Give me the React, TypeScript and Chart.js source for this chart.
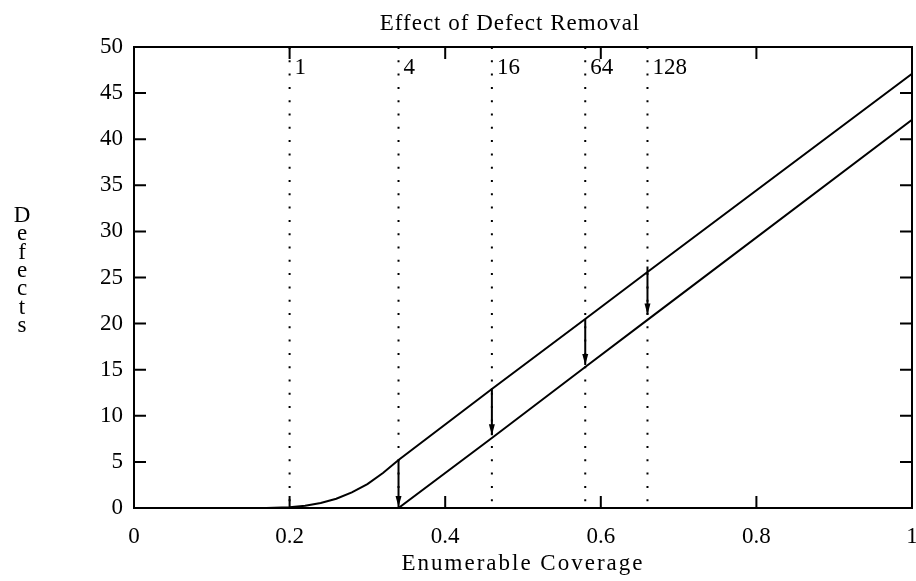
import React, { useEffect, useRef } from 'react';
import { Chart, registerables } from 'chart.js';

Chart.register(...registerables);

const titleText = 'Effect of Defect Removal';
const xAxisTitle = 'Enumerable Coverage';
const yAxisTitle = 'Defects';

// coverage levels where the test subsets are cut, with subset sizes
const cutCoverage = [0.2, 0.34, 0.46, 0.58, 0.66];
const cutLabels = ['1', '4', '16', '64', '128'];

// defects before removal
const beforeX = [0.17, 0.2, 0.22, 0.24, 0.26, 0.28, 0.3, 0.32, 0.34, 0.46, 0.58, 0.66, 1];
const beforeY = [0, 0.08, 0.25, 0.55, 1.0, 1.7, 2.6, 3.8, 5.2, 12.9, 20.5, 25.6, 47.1];

// defects after removal
const afterX = [0.34, 0.46, 0.58, 0.66, 1];
const afterY = [0, 7.6, 15.3, 20.4, 42.1];

// removal arrows
const arrowX = [0.34, 0.46, 0.58, 0.66];
const arrowFrom = [5.2, 13.0, 20.5, 26.2];
const arrowTo = [0.1, 7.9, 15.5, 21.0];

const FONT = "'Liberation Serif', 'Times New Roman', serif";
const FONT_SIZE = 23;

const zip = (xs: number[], ys: number[]) => xs.map((x, i) => ({ x, y: ys[i] }));

const decorPlugin = {
  id: 'decor',
  afterDatasetsDraw(chart: any) {
    const { ctx, chartArea: a, scales } = chart;
    const xs = scales.x;
    const ys = scales.y;
    ctx.save();

    // arrowheads at the end of each arrow dataset
    ctx.fillStyle = '#000';
    chart.data.datasets.forEach((ds: any, i: number) => {
      if (!ds.arrow) return;
      const meta = chart.getDatasetMeta(i);
      const pts = meta.data;
      const tip = pts[pts.length - 1];
      const len = 11;
      const half = 3;
      ctx.beginPath();
      ctx.moveTo(tip.x, tip.y);
      ctx.lineTo(tip.x - half, tip.y - len);
      ctx.lineTo(tip.x + half, tip.y - len);
      ctx.closePath();
      ctx.fill();
    });

    // frame
    ctx.strokeStyle = '#000';
    ctx.lineWidth = 2;
    ctx.strokeRect(a.left, a.top, a.right - a.left, a.bottom - a.top);

    // inward ticks on all four sides
    const TL = 12;
    ctx.beginPath();
    ys.ticks.forEach((t: any) => {
      const py = ys.getPixelForValue(t.value);
      ctx.moveTo(a.left, py);
      ctx.lineTo(a.left + TL, py);
      ctx.moveTo(a.right, py);
      ctx.lineTo(a.right - TL, py);
    });
    xs.ticks.forEach((t: any) => {
      const px = xs.getPixelForValue(t.value);
      ctx.moveTo(px, a.bottom);
      ctx.lineTo(px, a.bottom - TL);
      ctx.moveTo(px, a.top);
      ctx.lineTo(px, a.top + TL);
    });
    ctx.stroke();

    ctx.font = `${FONT_SIZE}px ${FONT}`;
    ctx.textBaseline = 'alphabetic';

    // subset size labels beside the cut lines
    ctx.textAlign = 'left';
    cutCoverage.forEach((c, i) => {
      const px = xs.getPixelForValue(c);
      ctx.fillText(cutLabels[i], px + 5, a.top + 27);
    });

    // vertical y-axis label, one letter per line
    ctx.textAlign = 'center';
    const chars = yAxisTitle.split('');
    chars.forEach((ch, i) => {
      ctx.fillText(ch, 22, 222 + i * 18.3);
    });

    // chart title and x-axis title, slightly spaced out
    (ctx as any).letterSpacing = '1px';
    ctx.fillText(titleText, 510, 30);
    (ctx as any).letterSpacing = '2px';
    ctx.fillText(xAxisTitle, (a.left + a.right) / 2, 570);
    (ctx as any).letterSpacing = '0px';

    ctx.restore();
  },
};

export default function App() {
  const ref = useRef<HTMLCanvasElement>(null);

  useEffect(() => {
    if (!ref.current) return;
    Chart.defaults.font.family = FONT;
    Chart.defaults.font.size = FONT_SIZE;
    Chart.defaults.color = '#000';

    const cutSets = cutCoverage.map((c) => ({
      data: [
        { x: c, y: 50 },
        { x: c, y: 0 },
      ],
      borderColor: '#000',
      borderWidth: 2,
      borderDash: [2, 11.3],
      borderCapStyle: 'butt',
      pointRadius: 0,
    }));

    const arrowSets = arrowX.map((x, i) => ({
      data: [
        { x, y: arrowFrom[i] },
        { x, y: arrowTo[i] },
      ],
      borderColor: '#000',
      borderWidth: 2,
      pointRadius: 0,
      arrow: true,
    }));

    const chart = new Chart(ref.current, {
      type: 'line',
      data: {
        datasets: [
          ...cutSets,
          {
            data: zip(beforeX, beforeY),
            borderColor: '#000',
            borderWidth: 2,
            pointRadius: 0,
            tension: 0,
          },
          {
            data: zip(afterX, afterY),
            borderColor: '#000',
            borderWidth: 2,
            pointRadius: 0,
            tension: 0,
          },
          ...arrowSets,
        ] as any,
      },
      options: {
        responsive: false,
        animation: false,
        layout: { padding: { top: 47, right: 4, left: 0, bottom: 0 } },
        plugins: {
          legend: { display: false },
          title: { display: false },
          tooltip: { enabled: false },
        },
        scales: {
          x: {
            type: 'linear',
            min: 0,
            max: 1,
            border: { display: false },
            grid: { display: false, drawTicks: false },
            ticks: {
              stepSize: 0.2,
              padding: 15,
              maxRotation: 0,
              autoSkip: false,
              callback: (v: any) => String(Number(Number(v).toFixed(1))),
            },
            title: { display: false },
            afterFit(scale: any) {
              scale.height = 73;
              scale.paddingLeft = 0;
              scale.paddingRight = 0;
            },
          },
          y: {
            type: 'linear',
            min: 0,
            max: 50,
            border: { display: false },
            grid: { display: false, drawTicks: false },
            ticks: { stepSize: 5, padding: 11 },
            afterFit(scale: any) {
              scale.width = 134;
              scale.paddingTop = 0;
              scale.paddingBottom = 0;
            },
          },
        },
      } as any,
      plugins: [decorPlugin],
    });

    return () => chart.destroy();
  }, []);

  return (
    <canvas
      ref={ref}
      width={916}
      height={581}
      style={{ position: 'absolute', left: 0, top: 0, display: 'block' }}
    />
  );
}
